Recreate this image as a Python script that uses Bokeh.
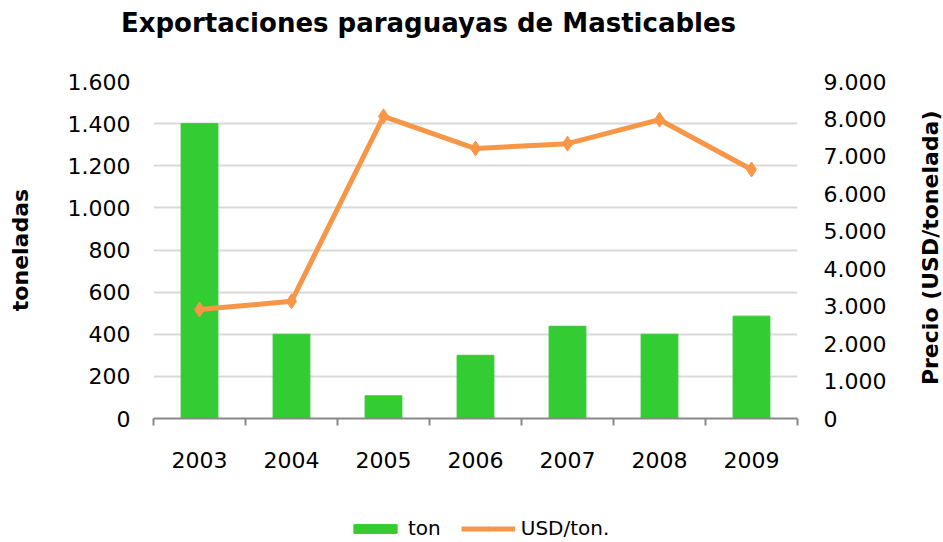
from bokeh.plotting import figure
from bokeh.models import Range1d, LinearAxis, FixedTicker, Legend, LegendItem, ColumnDataSource, Label
from bokeh.layouts import column, row
from bokeh.embed import file_html
from bokeh.resources import INLINE
import math

years = ["2003", "2004", "2005", "2006", "2007", "2008", "2009"]
ton = [1400, 400, 108, 300, 438, 400, 486]
usd_ton = [2910, 3130, 8070, 7210, 7340, 7980, 6650]
left_ticks = [0, 200, 400, 600, 800, 1000, 1200, 1400, 1600]
right_ticks = [0, 1000, 2000, 3000, 4000, 5000, 6000, 7000, 8000, 9000]
title_text = "Exportaciones paraguayas de Masticables"
left_title = "toneladas"
right_title = "Precio (USD/tonelada)"

def fmt(v):
    return f"{v:,}".replace(",", ".")

FONT = "DejaVu Sans"
BAR_COLOR = "#33cc33"
LINE_COLOR = "#f79646"
W, H_TOP, H_MAIN, H_LEG = 943, 44, 464, 34
MAIN_W = 910
NAN = float("nan")

def blank(width, height):
    f = figure(width=width, height=height, output_backend="svg", toolbar_location=None,
               x_range=Range1d(0, width), y_range=Range1d(0, height),
               min_border=0, min_border_left=0, min_border_right=0,
               min_border_top=0, min_border_bottom=0)
    f.axis.visible = False
    f.grid.visible = False
    f.outline_line_color = None
    return f

# ---- title strip
top = blank(W, H_TOP)
top.add_layout(Label(x=428, y=H_TOP / 2, text=title_text, text_align="center",
                     text_baseline="middle", text_font=FONT, text_font_style="bold",
                     text_font_size="26px", text_color="#000000"))

# ---- main chart
xc = [i + 0.5 for i in range(len(years))]
src = ColumnDataSource(dict(x=xc, ton=ton, usd=usd_ton))

p = figure(frame_width=644, frame_height=337, output_backend="svg", toolbar_location=None,
           x_range=Range1d(0, len(years)), y_range=Range1d(0, 1600),
           min_border_left=153, min_border_right=MAIN_W - 153 - 644,
           min_border_top=81 - H_TOP, min_border_bottom=H_MAIN - 337 - (81 - H_TOP))
p.extra_y_ranges = {"usd": Range1d(0, 9000)}
p.outline_line_color = None

bars = p.vbar(x="x", top="ton", width=0.4, source=src, color=BAR_COLOR)
line = p.line(x="x", y="usd", source=src, y_range_name="usd", line_color=LINE_COLOR, line_width=5)
mk = p.scatter(x="x", y="usd", source=src, y_range_name="usd", marker="diamond", size=15,
               color=LINE_COLOR)

xa = p.xaxis[0]
xa.ticker = FixedTicker(ticks=xc, minor_ticks=list(range(len(years) + 1)))
xa.major_label_overrides = {x: y for x, y in zip(xc, years)}
xa.major_tick_line_color = None
xa.minor_tick_line_color = "#888888"
xa.minor_tick_out = 7
xa.minor_tick_in = 0
xa.axis_line_color = "#888888"
xa.axis_line_width = 2
xa.minor_tick_line_width = 2
xa.major_label_text_font = FONT
xa.major_label_text_font_size = "22px"
xa.major_label_text_color = "#000000"
xa.major_label_standoff = 26
p.xgrid.grid_line_color = None

ya = p.yaxis[0]
ya.ticker = FixedTicker(ticks=left_ticks)
ya.major_label_overrides = {t: fmt(t) for t in left_ticks}
ya.axis_line_color = None
ya.major_tick_line_color = None
ya.minor_tick_line_color = None
ya.major_label_text_font = FONT
ya.major_label_text_font_size = "22px"
ya.major_label_text_color = "#000000"
ya.major_label_standoff = 17
ya.axis_label = left_title
ya.axis_label_text_font = FONT
ya.axis_label_text_font_style = "bold"
ya.axis_label_text_font_size = "22px"
ya.axis_label_text_color = "#000000"
ya.axis_label_standoff = 32
p.ygrid.ticker = FixedTicker(ticks=left_ticks)
p.ygrid.grid_line_color = "#d9d9d9"
p.ygrid.grid_line_width = 2

ra = LinearAxis(y_range_name="usd", ticker=FixedTicker(ticks=right_ticks))
ra.major_label_overrides = {t: fmt(t) for t in right_ticks}
ra.axis_line_color = None
ra.major_tick_line_color = None
ra.minor_tick_line_color = None
ra.major_label_text_font = FONT
ra.major_label_text_font_size = "22px"
ra.major_label_text_color = "#000000"
ra.major_label_standoff = 20
p.add_layout(ra, "right")

# ---- right title strip (reads bottom-to-top)
side = blank(W - MAIN_W, H_MAIN)
side.add_layout(Label(x=20, y=H_MAIN - (253 - H_TOP) - 20, text=right_title, angle=math.pi / 2,
                      text_align="center", text_baseline="middle", text_font=FONT,
                      text_font_style="bold", text_font_size="22px", text_color="#000000"))

# ---- legend strip (legend-only renderers hold no visible data)
leg = blank(W, H_LEG)
lb = leg.vbar(x=[NAN], top=[NAN], width=1, color=BAR_COLOR)
ll = leg.line(x=[NAN], y=[NAN], line_color=LINE_COLOR, line_width=5)
lm = leg.scatter(x=[NAN], y=[NAN], marker="diamond", size=7, color=LINE_COLOR)
legend = Legend(items=[LegendItem(label="ton", renderers=[lb]),
                       LegendItem(label="USD/ton.", renderers=[ll, lm])],
                orientation="horizontal", location=(348, 2),
                label_text_font=FONT, label_text_font_size="20px",
                label_text_color="#000000",
                glyph_width=54, glyph_height=11, spacing=20, border_line_color=None,
                background_fill_alpha=0, margin=0, padding=4, label_standoff=6)
leg.add_layout(legend, "center")

layout = column(top, row(p, side), leg)
open("out.html", "w").write(file_html(layout, INLINE))
